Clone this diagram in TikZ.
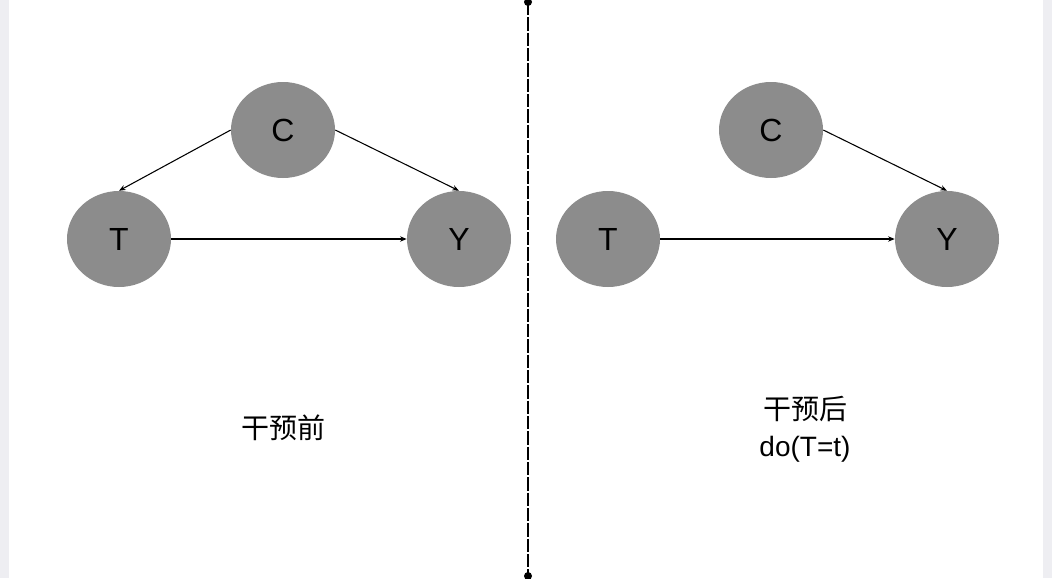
\documentclass[tikz,border=0pt]{standalone}
\usepackage{fontspec}
\setmainfont{Liberation Sans}
\newfontfamily\cjk{Noto Sans CJK SC}
\usetikzlibrary{arrows.meta,shapes.geometric}
\begin{document}
\begin{tikzpicture}[x=0.75pt,y=-0.75pt,
  nd/.style={ellipse,fill=nodegray,minimum width=78pt,minimum height=72pt,inner sep=0pt,font=\fontsize{24}{28}\selectfont},
  ar/.style={-{Stealth[length=5pt,width=4pt]},line width=0.8pt},
  lab/.style={font=\cjk\fontsize{21}{26}\selectfont,align=center}]
\definecolor{nodegray}{HTML}{8C8C8C}
\definecolor{edge}{HTML}{EEEEF2}
\useasboundingbox (0,0) rectangle (1052,578);
\fill[edge] (0,0) rectangle (9,578);
\fill[edge] (1043,0) rectangle (1052,578);
\node[nd] (C1) at (283,130) {C};
\node[nd] (T1) at (119,239) {T};
\node[nd] (Y1) at (459,239) {Y};
\node[nd] (C2) at (771,130) {C};
\node[nd] (T2) at (608,239) {T};
\node[nd] (Y2) at (947,239) {Y};
\draw[ar] (C1.west) -- (T1.north);
\draw[ar] (C1.east) -- (Y1.north);
\draw[ar] (T1.east) -- (Y1.west);
\draw[ar] (C2.east) -- (Y2.north);
\draw[ar] (T2.east) -- (Y2.west);
\coordinate (top) at (528,2);
\coordinate (bot) at (528,576);
\draw[line width=1.2pt,dash pattern=on 10pt off 1.5pt] (top) -- (bot);
\fill (top) circle (3pt);
\fill (bot) circle (3pt);
\node[lab] (L1) at (283,428) {干预前};
\node[lab] (L2) at (805,429) {干预后\\[2pt]{\fontspec{Liberation Sans}do(T=t)}};
\end{tikzpicture}
\end{document}
